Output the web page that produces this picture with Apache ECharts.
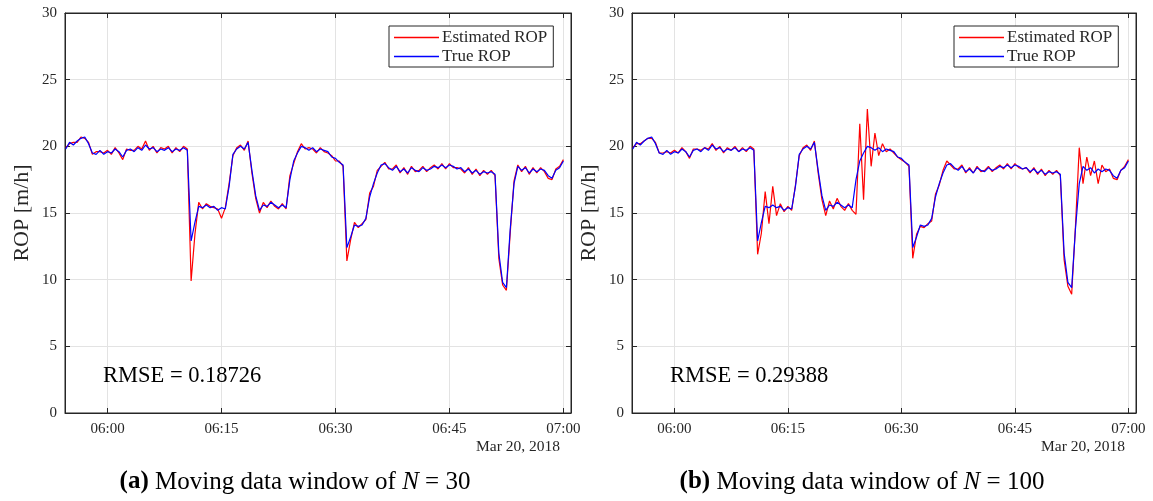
<!DOCTYPE html>
<html>
<head>
<meta charset="utf-8">
<script src="https://cdn.jsdelivr.net/npm/echarts@6/dist/echarts.min.js"></script>
<style>
	html, body { margin: 0; padding: 0; background: #fff; }
	#chart { width: 1153px; height: 501px; }
</style>
</head>
<body>
<div id="chart"></div>
<script>
	// samples every 30 s, first one at 05:54:30 (minutes relative to 06:00)
	var START_MIN = -5.5;
	var STEP_MIN = 0.5;

	var trueRop = [
		19.8, 20.3, 20.1, 20.4, 20.6, 20.7, 20.2, 19.5, 19.4, 19.7,
		19.4, 19.6, 19.5, 19.8, 19.6, 19.2, 19.7, 19.8, 19.6, 19.9,
		19.7, 20.1, 19.8, 19.9, 19.6, 19.8, 19.7, 19.9, 19.6, 19.8,
		19.7, 19.9, 19.7, 12.9, 14.3, 15.5, 15.4, 15.6, 15.4, 15.5,
		15.2, 15.4, 15.3, 17.0, 19.4, 19.8, 20.0, 19.8, 20.3, 18.2,
		16.3, 15.2, 15.6, 15.5, 15.8, 15.6, 15.4, 15.6, 15.4, 17.5,
		18.9, 19.5, 20.0, 19.9, 19.7, 19.9, 19.6, 19.8, 19.7, 19.6,
		19.2, 19.1, 18.8, 18.6, 12.4, 13.2, 14.1, 14.0, 14.1, 14.6,
		16.2, 17.2, 18.0, 18.6, 18.7, 18.4, 18.2, 18.5, 18.1, 18.3,
		18.0, 18.4, 18.2, 18.1, 18.4, 18.2, 18.3, 18.5, 18.4, 18.6,
		18.4, 18.6, 18.5, 18.3, 18.4, 18.1, 18.3, 18.0, 18.2, 17.9,
		18.1, 18.0, 18.1, 17.9, 12.0, 9.8, 9.4, 13.8, 17.2, 18.5,
		18.2, 18.4, 18.0, 18.3, 18.1, 18.3, 18.2, 17.8, 17.6, 18.2,
		18.4, 18.9
	];

	// N = 30
	var estRopA = [
		19.9, 20.2, 20.3, 20.3, 20.7, 20.6, 20.3, 19.4, 19.6, 19.6,
		19.5, 19.7, 19.4, 19.9, 19.5, 19.0, 19.8, 19.7, 19.7, 20.0,
		19.8, 20.4, 19.7, 20.0, 19.5, 19.9, 19.8, 20.0, 19.5, 19.9,
		19.6, 20.0, 19.8, 9.9, 13.4, 15.8, 15.3, 15.7, 15.5, 15.4,
		15.3, 14.6, 15.4, 17.2, 19.3, 19.9, 20.1, 19.7, 20.4, 18.0,
		16.1, 15.0, 15.8, 15.4, 15.9, 15.5, 15.3, 15.7, 15.3, 17.8,
		18.7, 19.6, 20.2, 19.8, 19.9, 19.8, 19.5, 19.9, 19.6, 19.5,
		19.3, 18.9, 18.9, 18.5, 11.4, 13.0, 14.3, 13.9, 14.2, 14.5,
		16.5, 17.0, 18.2, 18.5, 18.8, 18.3, 18.3, 18.6, 18.0, 18.4,
		17.9, 18.5, 18.1, 18.2, 18.5, 18.1, 18.4, 18.6, 18.3, 18.7,
		18.3, 18.7, 18.4, 18.4, 18.3, 18.0, 18.4, 17.9, 18.3, 17.8,
		18.2, 17.9, 18.2, 17.8, 11.6, 9.6, 9.2, 13.5, 17.4, 18.6,
		18.1, 18.5, 17.9, 18.4, 18.0, 18.4, 18.1, 17.6, 17.5, 18.3,
		18.5, 19.0
	];

	// N = 100
	var estRopB = [
		19.9, 20.2, 20.2, 20.4, 20.6, 20.6, 20.3, 19.5, 19.5, 19.6,
		19.5, 19.7, 19.5, 19.9, 19.6, 19.1, 19.8, 19.8, 19.7, 19.9,
		19.8, 20.2, 19.7, 20.0, 19.5, 19.9, 19.7, 20.0, 19.6, 19.9,
		19.6, 20.0, 19.8, 11.9, 13.5, 16.6, 14.2, 17.0, 14.8, 15.7,
		15.1, 15.5, 15.2, 17.1, 19.3, 19.9, 20.1, 19.7, 20.4, 18.0,
		16.0, 14.8, 15.9, 15.3, 16.1, 15.5, 15.2, 15.7, 15.2, 14.9,
		21.7, 16.0, 22.8, 18.5, 21.0, 19.3, 20.2, 19.6, 19.8, 19.5,
		19.2, 19.0, 18.8, 18.5, 11.6, 13.4, 14.0, 13.9, 14.2, 14.4,
		16.4, 17.1, 18.2, 18.9, 18.6, 18.3, 18.3, 18.6, 18.0, 18.4,
		18.0, 18.5, 18.1, 18.2, 18.5, 18.1, 18.4, 18.6, 18.3, 18.7,
		18.3, 18.7, 18.4, 18.3, 18.4, 18.0, 18.4, 17.9, 18.3, 17.8,
		18.2, 17.9, 18.2, 17.8, 11.5, 9.5, 8.9, 14.0, 19.9, 17.2,
		19.2, 17.8, 18.9, 17.2, 18.6, 18.1, 18.3, 17.6, 17.5, 18.2,
		18.5, 19.0
	];

	var xTickMinutes = [0, 15, 30, 45, 60];
	var rmseTexts = ['RMSE = 0.18726', 'RMSE = 0.29388'];
	var captions = [
		'{b|(a)} Moving data window of {i|N} = 30',
		'{b|(b)} Moving data window of {i|N} = 100'
	];
	var dateText = 'Mar 20, 2018';

	var FONT = '"Liberation Serif", "DejaVu Serif", serif';
	var AXIS_COLOR = '#262626';

	var minutes = trueRop.map(function(_, i) {
		return START_MIN + i * STEP_MIN;
	});

	function pairs(vals) {
		return vals.map(function(v, i) {
			return [minutes[i], v];
		});
	}

	function pad(n) {
		return (n < 10 ? '0' : '') + n;
	}

	function clock(m) {
		var total = 360 + Math.round(m);
		return pad(Math.floor(total / 60)) + ':' + pad(total % 60);
	}

	// plot panels (pixel boxes)
	var panels = [
		{ left: 65, right: 582 },
		{ left: 632, right: 17 }
	];

	var grids = [], xAxes = [], yAxes = [], series = [], legends = [], graphics = [];

	panels.forEach(function(p, k) {
		grids.push({
			left: p.left,
			right: p.right,
			top: 13,
			bottom: 88,
			show: true,
			borderColor: AXIS_COLOR,
			borderWidth: 1,
			backgroundColor: '#fff'
		});

		var xBase = {
			gridIndex: k,
			type: 'value',
			min: -5.6,
			max: 61,
			axisLine: { show: true, onZero: false, lineStyle: { color: AXIS_COLOR, width: 1 } },
			axisTick: { show: true, inside: true, length: 5, customValues: xTickMinutes, lineStyle: { color: AXIS_COLOR } }
		};
		xAxes.push(Object.assign({}, xBase, {
			position: 'bottom',
			axisLabel: {
				customValues: xTickMinutes,
				formatter: clock,
				fontFamily: FONT,
				fontSize: 15,
				color: AXIS_COLOR,
				margin: 9
			},
			splitLine: { show: true, lineStyle: { color: '#e3e3e3', width: 1 } }
		}));
		xAxes.push(Object.assign({}, xBase, {
			position: 'top',
			axisLabel: { show: false },
			splitLine: { show: false }
		}));

		var yBase = {
			gridIndex: k,
			type: 'value',
			min: 0,
			max: 30,
			interval: 5,
			axisLine: { show: true, onZero: false, lineStyle: { color: AXIS_COLOR, width: 1 } },
			axisTick: { show: true, inside: true, length: 5, lineStyle: { color: AXIS_COLOR } }
		};
		yAxes.push(Object.assign({}, yBase, {
			position: 'left',
			name: 'ROP [m/h]',
			nameLocation: 'middle',
			nameGap: 32,
			nameTextStyle: { fontFamily: FONT, fontSize: 22, color: AXIS_COLOR },
			axisLabel: { fontFamily: FONT, fontSize: 15, color: AXIS_COLOR, margin: 8 },
			splitLine: { show: true, lineStyle: { color: '#e3e3e3', width: 1 } }
		}));
		yAxes.push(Object.assign({}, yBase, {
			position: 'right',
			axisLabel: { show: false },
			splitLine: { show: false }
		}));

		var est = k === 0 ? estRopA : estRopB;
		series.push({
			name: 'Estimated ROP',
			type: 'line',
			xAxisIndex: k * 2,
			yAxisIndex: k * 2,
			data: pairs(est),
			symbol: 'none',
			showSymbol: false,
			lineStyle: { color: '#ff0000', width: 1.2 },
			itemStyle: { color: '#ff0000' },
			animation: false
		});
		series.push({
			name: 'True ROP',
			type: 'line',
			xAxisIndex: k * 2,
			yAxisIndex: k * 2,
			data: pairs(trueRop),
			symbol: 'none',
			showSymbol: false,
			lineStyle: { color: '#0000ff', width: 1.2 },
			itemStyle: { color: '#0000ff' },
			animation: false
		});

		var gridRightPx = 1153 - p.right;
		legends.push({
			orient: 'vertical',
			left: gridRightPx - 16 - 166,
			top: 26,
			padding: [3, 6, 2, 5],
			itemGap: 2,
			itemWidth: 45,
			itemHeight: 1.5,
			icon: 'rect',
			borderColor: AXIS_COLOR,
			borderWidth: 1,
			backgroundColor: '#fff',
			data: ['Estimated ROP', 'True ROP'],
			textStyle: { fontFamily: FONT, fontSize: 17, color: AXIS_COLOR, padding: [0, 0, 0, -2], lineHeight: 17 },
			selectedMode: false
		});

		graphics.push({
			type: 'text',
			z: 100,
			left: gridRightPx - 8 - 87,
			top: 439,
			style: { text: dateText, font: '15.5px ' + FONT, fill: AXIS_COLOR }
		});
		graphics.push({
			type: 'text',
			z: 100,
			left: p.left + 38,
			top: 365,
			style: { text: rmseTexts[k], font: '22.5px ' + FONT, fill: '#000' }
		});
		graphics.push({
			type: 'text',
			z: 100,
			x: k === 0 ? 295 : 862,
			y: 482,
			style: {
				text: captions[k],
				font: '25px ' + FONT,
				fill: '#000',
				align: 'center',
				verticalAlign: 'middle',
				rich: {
					b: { fontFamily: FONT, fontSize: 25, fontWeight: 'bold', fill: '#000' },
					i: { fontFamily: FONT, fontSize: 25, fontStyle: 'italic', fill: '#000' }
				}
			}
		});
	});

	var myChart = echarts.init(document.getElementById('chart'), null, { renderer: 'canvas' });
	myChart.setOption({
		animation: false,
		backgroundColor: '#fff',
		grid: grids,
		xAxis: xAxes,
		yAxis: yAxes,
		legend: legends,
		series: series,
		graphic: graphics
	});
</script>
</body>
</html>
